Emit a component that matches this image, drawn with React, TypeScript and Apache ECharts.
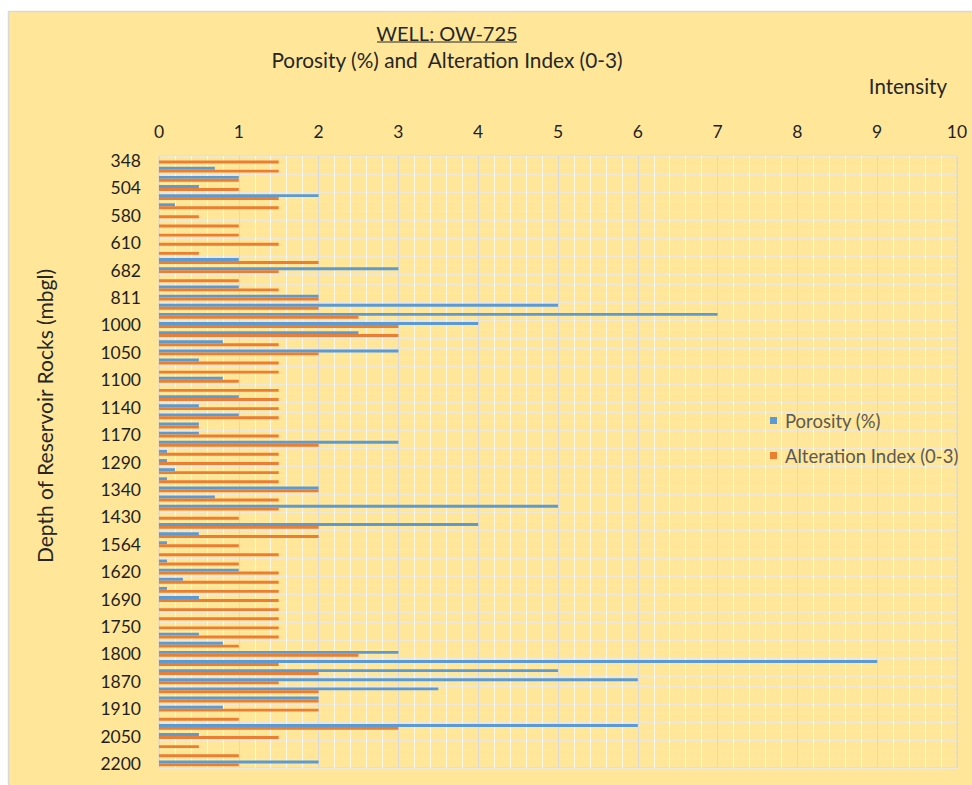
import React, { useEffect, useRef } from "react";
import * as echarts from "echarts";

// Depth categories (only every third label is legible; the others are left blank)
const depthLabels: string[] = [
  "348", "", "", "504", "", "", "580", "", "", "610", "", "", "682", "", "",
  "811", "", "", "1000", "", "", "1050", "", "", "1100", "", "", "1140", "", "",
  "1170", "", "", "1290", "", "", "1340", "", "", "1430", "", "", "1564", "", "",
  "1620", "", "", "1690", "", "", "1750", "", "", "1800", "", "", "1870", "", "",
  "1910", "", "", "2050", "", "", "2200",
];

const porosity: number[] = [
  0, 0.7, 1.0, 0.5, 2.0, 0.2, 0, 0, 0, 0, 0, 1.0, 3.0, 0, 1.0,
  2.0, 5.0, 7.0, 4.0, 2.5, 0.8, 3.0, 0.5, 0, 0.8, 0, 1.0, 0.5, 1.0, 0.5,
  0.5, 3.0, 0.1, 0.1, 0.2, 0.1, 2.0, 0.7, 5.0, 0, 4.0, 0.5, 0.1, 0, 0.1,
  1.0, 0.3, 0.1, 0.5, 0, 0, 0, 0.5, 0.8, 3.0, 9.0, 5.0, 6.0, 3.5, 2.0,
  0.8, 0, 6.0, 0.5, 0, 0, 2.0,
];

const alteration: number[] = [
  1.5, 1.5, 1.0, 1.0, 1.5, 1.5, 0.5, 1.0, 1.0, 1.5, 0.5, 2.0, 1.5, 1.0, 1.5,
  2.0, 2.0, 2.5, 3.0, 3.0, 1.5, 2.0, 1.5, 1.5, 1.0, 1.5, 1.5, 1.5, 1.5, 0.5,
  1.5, 2.0, 1.5, 1.5, 1.5, 1.5, 2.0, 1.5, 1.5, 1.0, 2.0, 2.0, 1.0, 1.5, 1.0,
  1.5, 1.5, 1.5, 1.5, 1.5, 1.5, 1.5, 1.5, 1.0, 2.5, 1.5, 2.0, 1.5, 2.0, 2.0,
  2.0, 1.0, 3.0, 1.5, 0.5, 1.0, 1.0,
];

const seriesNames = ["Porosity (%)", "Alteration Index (0-3)"];
const titleText = "WELL: OW-725";
const subtitleText = "Porosity (%) and  Alteration Index (0-3)";
const xAxisName = "Intensity";
const yAxisName = "Depth of Reservoir Rocks (mbgl)";

const FONT = "Lato, 'Noto Sans', sans-serif";
const TEXT_DARK = "#262626";

export default function App() {
  const ref = useRef<HTMLDivElement>(null);

  useEffect(() => {
    if (!ref.current) return;
    const chart = echarts.init(ref.current, undefined, { renderer: "svg" });
    chart.setOption({
      animation: false,
      backgroundColor: "#FFE699",
      textStyle: { fontFamily: FONT },
      graphic: [
        { type: "rect", z: 100, shape: { x: 0, y: 0, width: 972, height: 11 }, style: { fill: "#ffffff" } },
        { type: "rect", z: 100, shape: { x: 0, y: 0, width: 8, height: 785 }, style: { fill: "#ffffff" } },
        { type: "line", z: 100, shape: { x1: 8, y1: 11.5, x2: 972, y2: 11.5 }, style: { stroke: "#d9d9d9", lineWidth: 1.5 } },
        { type: "line", z: 100, shape: { x1: 8.5, y1: 11, x2: 8.5, y2: 785 }, style: { stroke: "#d9d9d9", lineWidth: 1.5 } },
        {
          type: "text", x: 447, y: 33,
          style: { text: titleText, textAlign: "center", textVerticalAlign: "middle", fontSize: 20, fontFamily: FONT, fill: TEXT_DARK },
        },
        { type: "line", shape: { x1: 377, y1: 42, x2: 517, y2: 42 }, style: { stroke: TEXT_DARK, lineWidth: 1 } },
        {
          type: "text", x: 447, y: 59,
          style: { text: subtitleText, textAlign: "center", textVerticalAlign: "middle", fontSize: 20.8, fontFamily: FONT, fill: TEXT_DARK },
        },
        {
          type: "text", x: 947, y: 86,
          style: { text: xAxisName, textAlign: "right", textVerticalAlign: "middle", fontSize: 20.5, fontFamily: FONT, fill: TEXT_DARK },
        },
        {
          type: "text", x: 44, y: 416, rotation: Math.PI / 2,
          style: { text: yAxisName, textAlign: "center", textVerticalAlign: "middle", fontSize: 21, fontFamily: FONT, fill: TEXT_DARK },
        },
      ],
      legend: {
        orient: "vertical",
        left: 765,
        top: 406,
        itemWidth: 7,
        itemHeight: 7,
        itemGap: 16,
        icon: "rect",
        data: seriesNames,
        textStyle: { fontSize: 18.5, color: "#595959", fontFamily: FONT, padding: [0, 0, 0, 3] },
      },
      grid: {
        left: 159,
        right: 15,
        top: 156,
        bottom: 17,
        show: true,
        borderColor: "#d9d9d9",
        borderWidth: 1,
        backgroundColor: "transparent",
      },
      xAxis: {
        type: "value",
        position: "top",
        min: 0,
        max: 10,
        interval: 1,
        axisLine: { show: false },
        axisTick: { show: false },
        axisLabel: { fontSize: 17.5, color: "#1f1f1f", margin: 16, fontFamily: FONT },
        splitLine: { show: true, lineStyle: { color: "#d9d9d9", width: 1 } },
        minorTick: { show: false, splitNumber: 5 },
        minorSplitLine: { show: true, lineStyle: { color: "#ffffff", width: 1, opacity: 0.75 } },
      },
      yAxis: {
        type: "category",
        inverse: true,
        data: depthLabels,
        axisLine: { show: false },
        axisTick: { show: false },
        axisLabel: { interval: 2, fontSize: 17.5, color: "#1f1f1f", margin: 18, fontFamily: FONT },
        splitLine: { show: true, interval: 0, lineStyle: { color: "#ece8dc", width: 1 } },
      },
      series: [
        {
          name: seriesNames[0],
          type: "bar",
          data: porosity,
          itemStyle: { color: "#5B9BD5" },
          barGap: "0%",
          barCategoryGap: "36%",
        },
        {
          name: seriesNames[1],
          type: "bar",
          data: alteration,
          itemStyle: { color: "#ED7D31" },
          barGap: "0%",
          barCategoryGap: "36%",
        },
      ],
    });
    return () => chart.dispose();
  }, []);

  return (
    <div
      ref={ref}
      style={{ position: "fixed", left: 0, top: 0, width: 972, height: 785 }}
    />
  );
}
